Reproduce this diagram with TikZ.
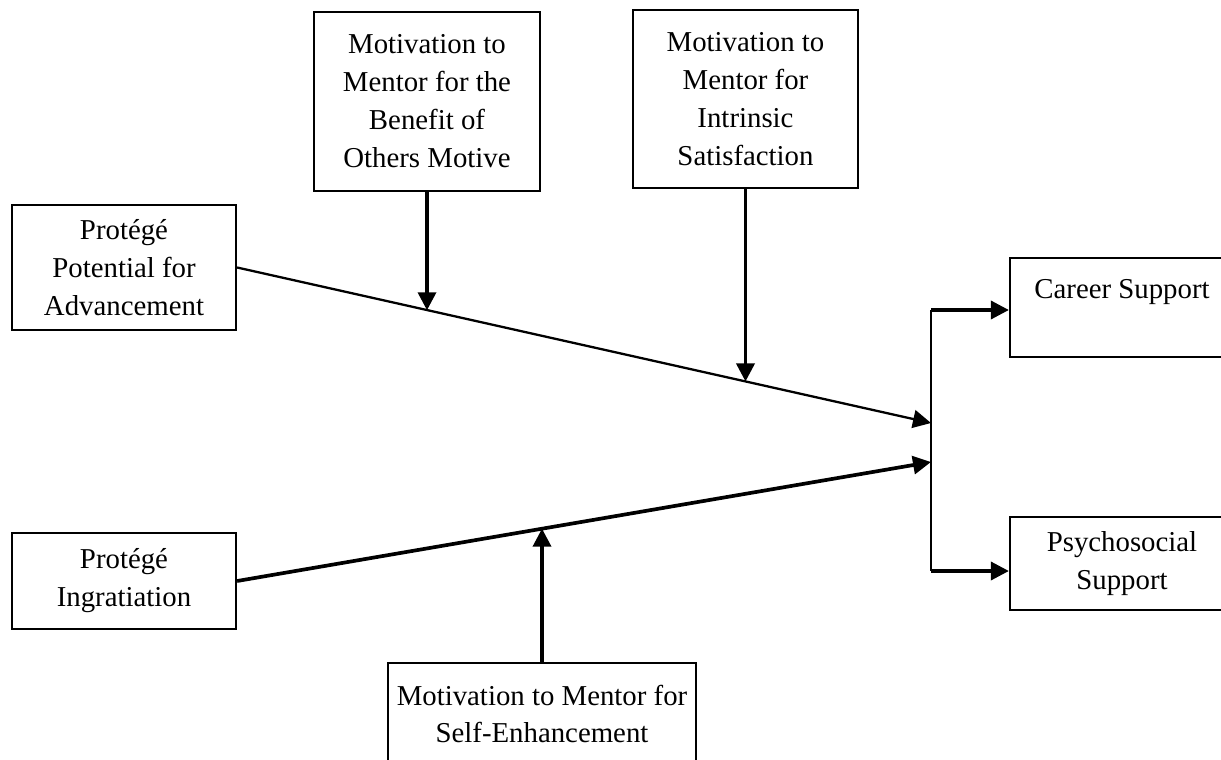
\documentclass[tikz,border=0pt]{standalone}
\usepackage{fontspec}
\setmainfont{Liberation Serif}
\usetikzlibrary{arrows.meta,positioning,calc}
\tikzset{
  pm/box/.style={draw, line width=1.3pt, inner sep=2pt, align=center, font=\fontsize{16.4}{21.6}\selectfont},
  pm/link/.style={line width=1.6pt},
  pm/arrow/.style={line width=2pt, -{Triangle[length=0.36cm, width=0.36cm]}},
  pm/path/.style={-{Triangle[length=0.36cm, width=0.36cm]}}
}

\begin{document}
\begin{tikzpicture}[x=0.02cm, y=-0.02cm]
  \useasboundingbox (0,0) rectangle (1221,760);

  % predictors
  \node[pm/box, minimum width=4.48cm, minimum height=2.5cm] (ppa) at (124,267.5) {Protégé\\Potential for\\Advancement};
  \node[pm/box, minimum width=4.48cm, minimum height=1.92cm] (pin) at (124,581) {Protégé\\Ingratiation};

  % moderators
  \node[pm/box, minimum width=4.52cm, minimum height=3.58cm] (mob) at (427,101.5) {Motivation to\\Mentor for the\\Benefit of\\Others Motive};
  \node[pm/box, minimum width=4.5cm, minimum height=3.56cm] (mis) at (745.5,99) {Motivation to\\Mentor for\\Intrinsic\\Satisfaction};
  \node[pm/box, minimum width=6.16cm, minimum height=2.04cm] (mse) at (542,714) {Motivation to Mentor for\\Self-Enhancement};

  % outcomes
  \node[pm/box, minimum width=4.48cm, minimum height=1.98cm] (cs) at (1122,307.5) {Career Support\\ ~};
  \node[pm/box, minimum width=4.48cm, minimum height=1.86cm] (pss) at (1122,563.5) {Psychosocial\\Support};

  % junction bar
  \coordinate (jA) at (931,423);
  \coordinate (jI) at (931,462);
  \coordinate (jTop) at (931,310);
  \coordinate (jBot) at (931,571);

  \draw[pm/path, line width=1.3pt] (ppa.east) -- (jA)
    coordinate[pos=0.275] (mA) coordinate[pos=0.733] (mB);
  \draw[pm/path, line width=2.1pt] (pin.east) -- (jI)
    coordinate[pos=0.44] (mC);

  \draw[pm/arrow] (mob.south) -- (mob.south |- mA);
  \draw[pm/arrow] (mis.south) -- (mis.south |- mB);
  \draw[pm/arrow] (mse.north) -- (mse.north |- mC);

  \draw[pm/link] (jTop) -- (jBot);
  \draw[pm/arrow] (jTop) -- (jTop -| cs.west);
  \draw[pm/arrow] (jBot) -- (jBot -| pss.west);
\end{tikzpicture}
\end{document}
